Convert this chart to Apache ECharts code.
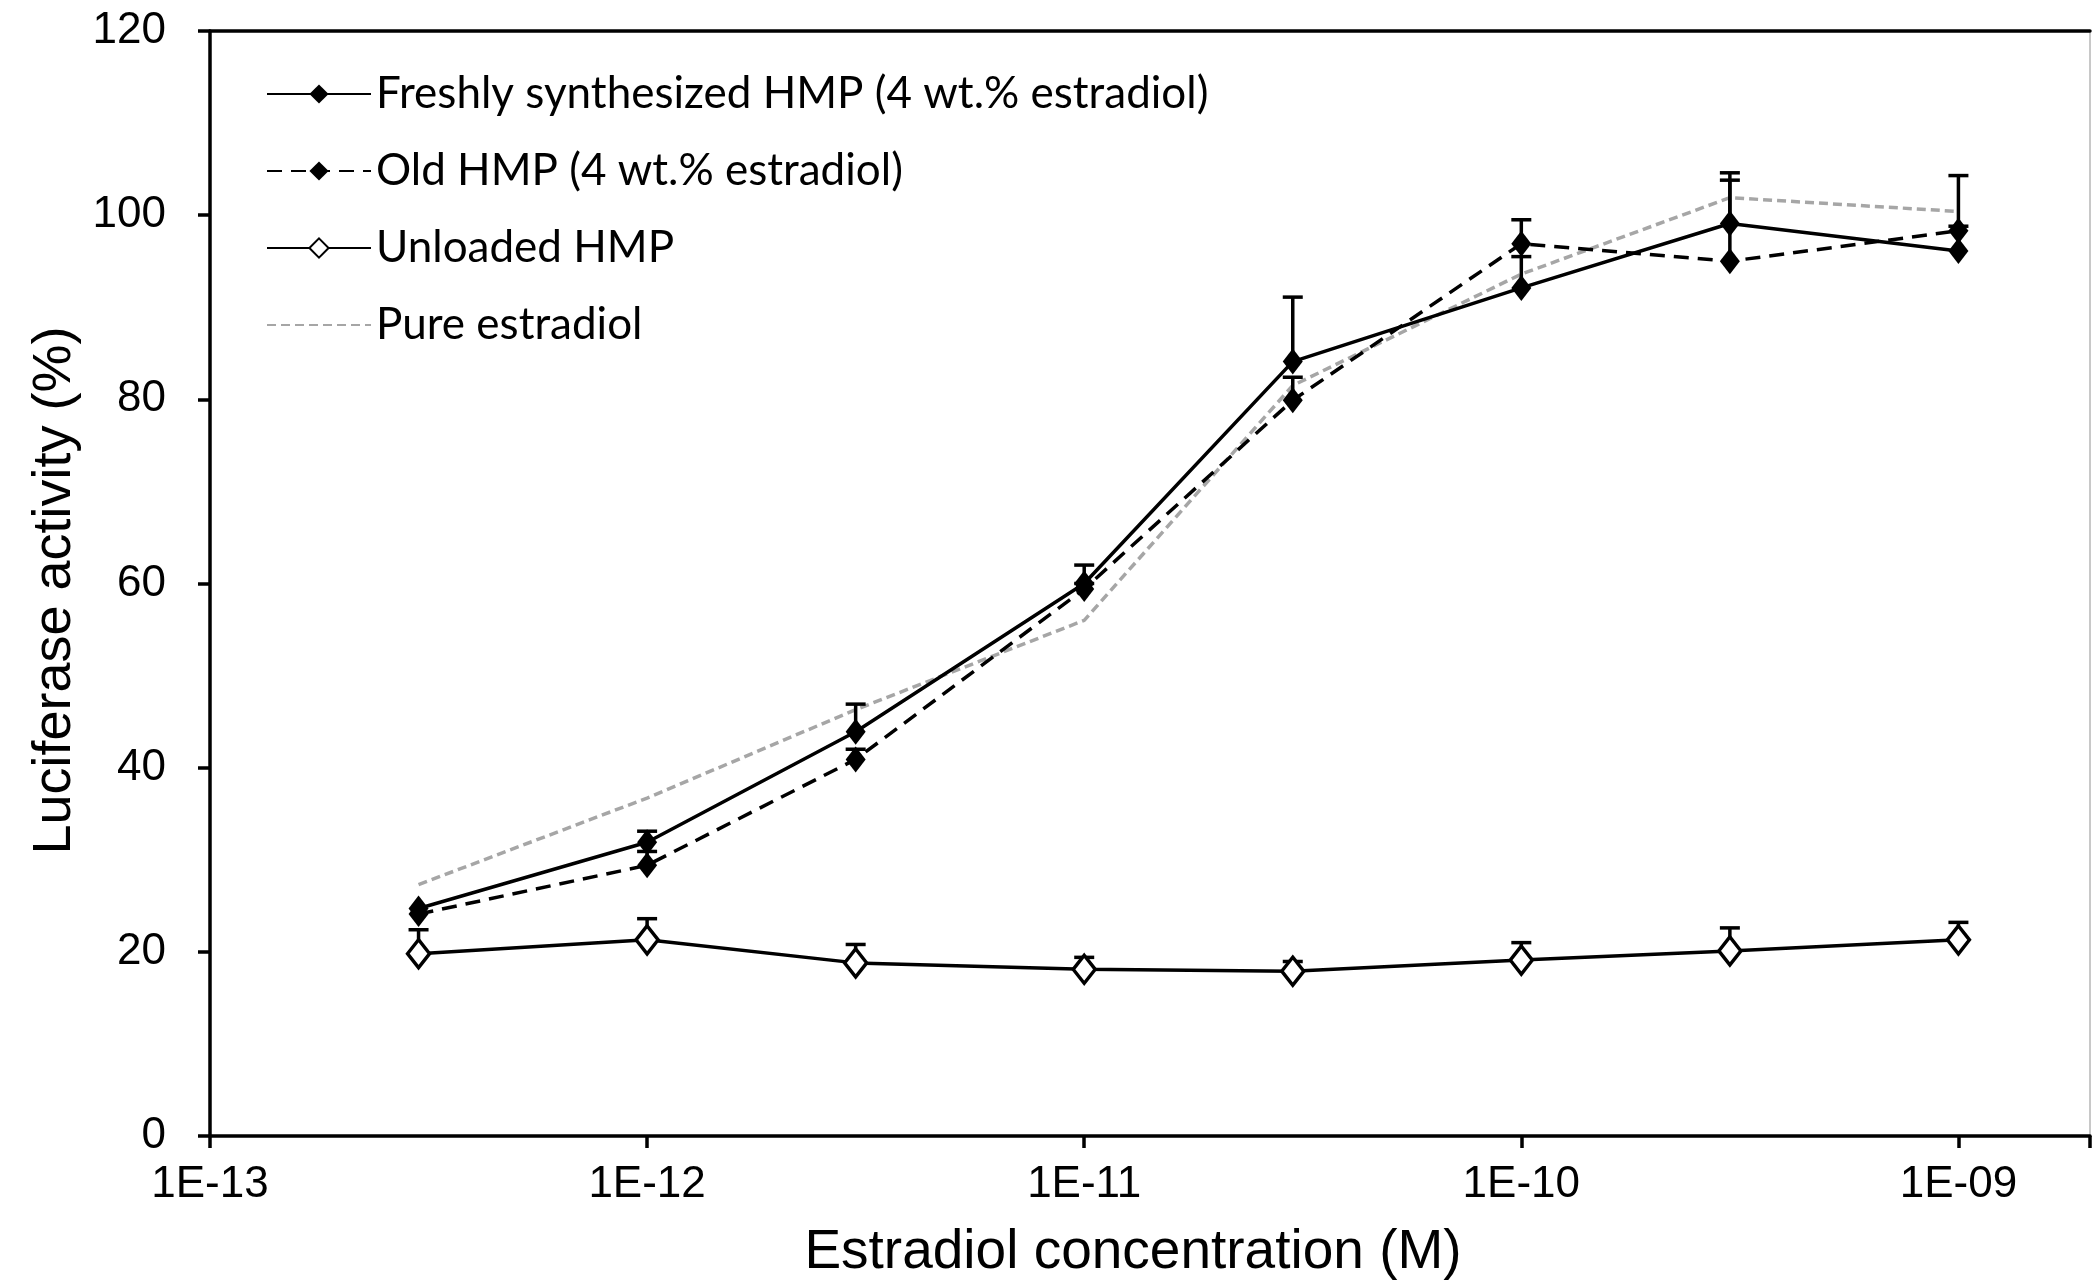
<!DOCTYPE html>
<html><head><meta charset="utf-8">
<script src="https://cdn.jsdelivr.net/npm/echarts@6/dist/echarts.min.js"></script>
<style>html,body{margin:0;padding:0;background:#fff}#c{width:2093px;height:1285px}</style>
</head><body><div id="c"></div>
<script>
// Estradiol concentrations (M)
const concentrations = [3e-13, 1e-12, 3e-12, 1e-11, 3e-11, 1e-10, 3e-10, 1e-9];
// Luciferase activity (%)
const freshly      = [24.7, 31.9, 43.9, 60.0, 84.1, 92.1, 99.1, 96.1];
const freshlyErr   = [0.0, 1.2, 3.0, 2.0, 7.0, 3.4, 5.5, 8.2];
const oldHmp       = [24.1, 29.4, 40.9, 59.4, 79.9, 96.9, 95.0, 98.3];
const oldHmpErr    = [0.0, 1.5, 1.1, 0.6, 2.5, 2.6, 8.8, 0.5];
const unloaded     = [19.8, 21.3, 18.8, 18.1, 17.9, 19.1, 20.1, 21.3];
const unloadedErr  = [2.6, 2.3, 2.0, 1.3, 1.05, 1.9, 2.5, 1.9];
const pure         = [27.3, 36.7, 46.3, 56.0, 81.5, 93.6, 101.9, 100.4];

const names = ['Freshly synthesized HMP (4 wt.% estradiol)', 'Old HMP (4 wt.% estradiol)', 'Unloaded HMP', 'Pure estradiol'];

const pts = arr => concentrations.map((c, i) => [c, arr[i]]);
const errPts = (arr, err) => concentrations.map((c, i) => [c, arr[i], err[i]]);

const AX = 'Liberation Sans, Arial, sans-serif';

function errRender(params, api) {
  const x = api.value(0), y = api.value(1), e = api.value(2);
  if (!(e > 0)) return null;
  const p0 = api.coord([x, y]);
  const p1 = api.coord([x, y + e]);
  return {
    type: 'group',
    children: [
      {type: 'line', shape: {x1: p0[0], y1: p0[1], x2: p1[0], y2: p1[1]}, style: {stroke: '#000', lineWidth: 3.5}},
      {type: 'line', shape: {x1: p1[0] - 10, y1: p1[1], x2: p1[0] + 10, y2: p1[1]}, style: {stroke: '#000', lineWidth: 3.5}}
    ]
  };
}

function expLabel(v) {
  const l = Math.log10(v);
  const e = Math.round(l);
  if (Math.abs(l - e) > 1e-6) return '';
  return '1E-' + String(-e).padStart(2, '0');
}

const chart = echarts.init(document.getElementById('c'), null, {renderer: 'canvas'});
chart.setOption({
  animation: false,
  backgroundColor: '#fff',
  grid: {left: 210, top: 31, right: 3, bottom: 146, show: true, borderColor: '#c8c8c8', borderWidth: 2, backgroundColor: 'transparent'},
  legend: {
    orient: 'vertical', left: 261, top: 64,
    itemWidth: 104, itemHeight: 24, itemGap: 27,
    textStyle: {fontFamily: 'Lato, sans-serif', fontSize: 44, color: '#000', lineHeight: 50},
    data: [
      {name: names[0]}, {name: names[1]}, {name: names[2]},
      {name: names[3], itemStyle: {opacity: 0}}
    ]
  },
  xAxis: [{
    type: 'log', logBase: 10, min: 1e-13, max: 2e-9,
    name: 'Estradiol concentration (M)', nameLocation: 'middle', nameGap: 89,
    nameTextStyle: {fontFamily: AX, fontSize: 55, color: '#000', padding: [0, 34, 0, 0]},
    axisLine: {lineStyle: {color: '#000', width: 3.5}},
    axisTick: {show: true, length: 12, lineStyle: {color: '#000', width: 3.5}},
    axisLabel: {formatter: expLabel, fontFamily: AX, fontSize: 44, color: '#000', margin: 27},
    splitLine: {show: false}, minorTick: {show: false}
  }, {
    type: 'log', logBase: 10, min: 1e-13, max: 2e-9, position: 'top',
    axisLine: {show: true, lineStyle: {color: '#000', width: 3.5}},
    axisTick: {show: false}, axisLabel: {show: false}, splitLine: {show: false}
  }],
  yAxis: {
    type: 'value', min: 0, max: 120, interval: 20,
    name: 'Luciferase activity (%)', nameLocation: 'middle', nameGap: 126,
    nameTextStyle: {fontFamily: AX, fontSize: 54, color: '#000', padding: [0, 14, 0, 0]},
    axisLine: {show: true, lineStyle: {color: '#000', width: 3.5}},
    axisTick: {show: true, length: 12, lineStyle: {color: '#000', width: 3.5}},
    axisLabel: {fontFamily: AX, fontSize: 44, color: '#000', margin: 44},
    splitLine: {show: false}
  },
  series: [
    {name: names[3], type: 'line', data: pts(pure), symbol: 'none', z: 2,
     lineStyle: {color: '#a6a6a6', width: 3.5, type: [9, 5]}, itemStyle: {color: '#a6a6a6'}},
    {name: 'errU', type: 'custom', renderItem: errRender, data: errPts(unloaded, unloadedErr), encode: {x: 0, y: 1}, z: 3},
    {name: 'errF', type: 'custom', renderItem: errRender, data: errPts(freshly, freshlyErr), encode: {x: 0, y: 1}, z: 3},
    {name: 'errO', type: 'custom', renderItem: errRender, data: errPts(oldHmp, oldHmpErr), encode: {x: 0, y: 1}, z: 3},
    {name: names[2], type: 'line', data: pts(unloaded), symbol: 'diamond', symbolSize: [22, 28], z: 4,
     lineStyle: {color: '#000', width: 3.5}, itemStyle: {color: '#fff', borderColor: '#000', borderWidth: 3.5}},
    {name: names[1], type: 'line', data: pts(oldHmp), symbol: 'diamond', symbolSize: [20, 26], z: 4,
     lineStyle: {color: '#000', width: 3.5, type: [15, 9]}, itemStyle: {color: '#000'}},
    {name: names[0], type: 'line', data: pts(freshly), symbol: 'diamond', symbolSize: [20, 26], z: 4,
     lineStyle: {color: '#000', width: 3.5}, itemStyle: {color: '#000'}}
  ]
});
</script></body></html>
